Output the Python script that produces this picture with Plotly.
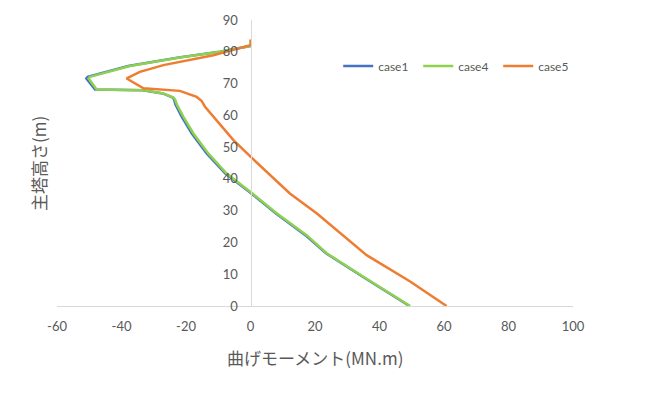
import plotly.graph_objects as go

# case4 (green)
case4_m = [0, -9.5, -21.9, -37.4, -49.8, -50.2, -47.7, -33.2, -27.0, -23.9, -23.4, -22.9, -20.8, -17.7, -13.1, -7.4, 0, 8.1, 17.4, 23.6, 35.0, 49.5]
case4_h = [81.8, 80.0, 78.2, 75.5, 72.1, 71.6, 68.1, 67.9, 66.9, 65.6, 65.0, 63.5, 59.5, 54.3, 48.0, 41.7, 35.9, 29.2, 22.3, 16.6, 9.2, 0]

# case1 (blue) - nearly identical to case4
case1_m = [0, -9.6, -22.2, -37.9, -50.5, -50.9, -48.2, -33.4, -27.2, -24.1, -23.7, -23.3, -21.3, -18.2, -13.6, -7.8, -0.3, 7.8, 17.0, 23.4, 34.8, 49.3]
case1_h = [81.8, 80.0, 78.2, 75.5, 72.1, 71.6, 68.1, 67.9, 66.9, 65.6, 65.0, 63.5, 59.5, 54.3, 48.0, 41.7, 35.9, 29.2, 22.3, 16.6, 9.2, 0]

# case5 (orange)
case5_m = [0, 0, -11.5, -27.0, -34.3, -38.4, -33.2, -21.9, -16.7, -15.2, -14.1, -10.5, -5.3, 0, 12.2, 20.5, 29.8, 36.0, 49.5, 60.8]
case5_h = [83.9, 82.1, 78.9, 75.8, 73.7, 71.6, 68.5, 67.7, 65.8, 64.6, 62.7, 58.5, 52.2, 47.0, 35.4, 29.2, 21.3, 16.0, 7.7, 0]

x_ticks = [-60, -40, -20, 0, 20, 40, 60, 80, 100]
x_tick_labels = ["-60", "-40", "-20", "0", "20", "40", "60", "80", "100"]
y_ticks = [0, 10, 20, 30, 40, 50, 60, 70, 80, 90]

FONT = "Lato, 'Noto Sans CJK JP', sans-serif"
JFONT = "'Noto Sans CJK JP', sans-serif"
GRAY = "#595959"

fig = go.Figure()
fig.add_trace(go.Scatter(x=case1_m, y=case1_h, mode="lines", name="case1",
                         line=dict(color="#4472C4", width=2.5)))
fig.add_trace(go.Scatter(x=case4_m, y=case4_h, mode="lines", name="case4",
                         line=dict(color="#8ED14F", width=2.5)))
fig.add_trace(go.Scatter(x=case5_m, y=case5_h, mode="lines", name="case5",
                         line=dict(color="#ED7D31", width=2.5)))

fig.update_layout(
    width=660, height=396,
    margin=dict(l=57, r=87, t=20, b=90, autoexpand=False),
    paper_bgcolor="white", plot_bgcolor="white",
    font=dict(family=FONT, size=13, color=GRAY),
    showlegend=True,
    legend=dict(orientation="h", x=0.545, xanchor="left", y=0.839, yanchor="middle",
                font=dict(size=12, color=GRAY), bgcolor="rgba(0,0,0,0)",
                entrywidth=35, entrywidthmode="pixels", tracegroupgap=0),
    xaxis=dict(range=[-60, 100], tickvals=x_ticks, ticktext=x_tick_labels,
               showgrid=False, zeroline=False, automargin=False,
               showline=True, linecolor="#D9D9D9", linewidth=1, ticks="",
               ticklabelstandoff=8, tickfont=dict(size=13, color=GRAY)),
    yaxis=dict(range=[0, 90], tickvals=y_ticks, showgrid=False, zeroline=False,
               anchor="free", position=0.375, automargin=False,
               showline=True, linecolor="#D9D9D9", linewidth=1, ticks="",
               ticklabelstandoff=10, tickfont=dict(size=13, color=GRAY)),
    annotations=[
        dict(text="曲げモーメント(MN.m)", xref="paper", yref="paper", x=0.5, y=-0.18,
             xanchor="center", yanchor="middle", showarrow=False,
             font=dict(family=JFONT, size=17, color=GRAY)),
        dict(text="主塔高さ(m)", xref="paper", yref="paper", x=-0.037, y=0.5,
             xanchor="center", yanchor="middle", showarrow=False, textangle=-90,
             font=dict(family=JFONT, size=17, color=GRAY)),
    ],
)

fig.write_html("out.html", config={"displayModeBar": False},
               post_script="document.body.style.margin='0';")
